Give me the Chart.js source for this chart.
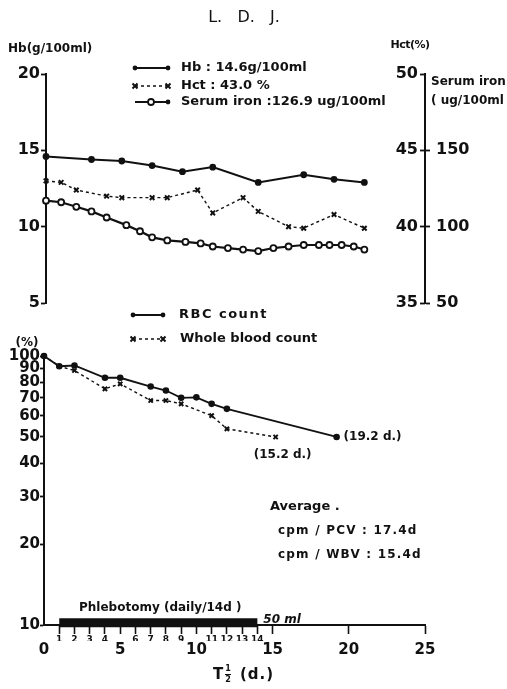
<!DOCTYPE html>
<html>
<head>
<meta charset="utf-8">
<title>L. D. J.</title>
<script src="https://cdn.jsdelivr.net/npm/chart.js@4.4.1/dist/chart.umd.min.js"></script>
<style>
  html, body { margin: 0; padding: 0; background: #fff; }
  #wrap { position: relative; width: 507px; height: 689px; overflow: hidden; background: #fff; }
  .box { position: absolute; left: 0; width: 507px; }
  #topBox { top: 0; height: 320px; }
  #botBox { top: 300px; height: 389px; }
</style>
</head>
<body>
<div id="wrap">
  <div class="box" id="topBox"><canvas id="topChart" width="507" height="320"></canvas></div>
  <div class="box" id="botBox"><canvas id="botChart" width="507" height="389"></canvas></div>
</div>
<script>
// Upper panel: Hb, Hct and serum iron by day
const hbDays = [0, 3, 5, 7, 9, 11, 14, 17, 19, 21];
const hbValues = [14.6, 14.4, 14.3, 14.0, 13.6, 13.9, 12.9, 13.4, 13.1, 12.9];
const hctDays = [0, 1, 2, 4, 5, 7, 8, 10, 11, 13, 14, 16, 17, 19, 21];
const hctValues = [43.0, 42.9, 42.4, 42.0, 41.9, 41.9, 41.9, 42.4, 40.9, 41.9, 41.0, 40.0, 39.9, 40.8, 39.9];
const ironDays = [0, 1, 2, 3, 4, 5.3, 6.2, 7, 8, 9.2, 10.2, 11, 12, 13, 14, 15, 16, 17, 18, 18.7, 19.5, 20.3, 21];
const ironValues = [117, 116, 113, 110, 106, 101, 97, 93, 91, 90, 89, 87, 86, 85, 84, 86, 87, 88, 88, 88, 88, 87, 85];

// Lower panel: survival of labelled cells (% of day 0), log scale
const rbcDays = [0, 1, 2, 4, 5, 7, 8, 9, 10, 11, 12, 19.2];
const rbcValues = [100, 91.6, 92.2, 83.0, 83.0, 77.0, 74.4, 69.9, 70.2, 66.4, 63.6, 50];
const wbcDays = [0, 1, 2, 4, 5, 7, 8, 9, 11, 12, 15.2];
const wbcValues = [100, 91.6, 88.3, 75.5, 78.8, 68.3, 68.3, 66.4, 60.0, 53.6, 50];

// Phlebotomy period (50 ml daily, days 1-14), drawn as a band along the bottom
const phlebotomyDays = [1, 14];
const phlebotomyLevel = 10.2;

// Tick values
const hbTicks = [5, 10, 15, 20];
const hctTicks = [35, 40, 45, 50];
const ironTicks = [50, 100, 150];
const pctTicks = [10, 20, 30, 40, 50, 60, 70, 80, 90, 100];
const dayTicks = [0, 5, 10, 15, 20, 25];
const dayNumbers = [1, 2, 3, 4, 6, 7, 8, 9, 11, 12, 13, 14];

const topLegend = ['Hb : 14.6g/100ml', 'Hct : 43.0 %', 'Serum iron :126.9 ug/100ml'];
const botLegend = ['RBC count', 'Whole blood count'];

const ink = '#111';
const FAM = 'DejaVu Sans';
Chart.defaults.font.family = FAM;
Chart.defaults.color = ink;

const pts = (xs, ys) => xs.map((x, i) => ({ x: x, y: ys[i] }));
const fixTicks = vals => scale => { scale.ticks = vals.map(v => ({ value: v })); };
const fixWidth = w => scale => { scale.width = w; };
const fixHeight = h => scale => { scale.height = h; };
const bold = size => ({ family: FAM, size: size, weight: 'bold' });

function put(ctx, s, x, y, font, align, spacing) {
  ctx.font = font;
  ctx.textAlign = align || 'left';
  ctx.textBaseline = 'middle';
  ctx.letterSpacing = spacing || '0px';
  ctx.fillText(s, x, y);
}

// legend keys: line piece plus markers
function keyLine(ctx, x1, x2, y, dash, w) {
  ctx.save();
  ctx.strokeStyle = ink;
  ctx.lineWidth = w;
  ctx.setLineDash(dash);
  ctx.beginPath(); ctx.moveTo(x1, y); ctx.lineTo(x2, y); ctx.stroke();
  ctx.restore();
}
function mark(ctx, kind, x, y) {
  ctx.save();
  ctx.strokeStyle = ink; ctx.fillStyle = ink;
  if (kind === 'dot') {
    ctx.beginPath(); ctx.arc(x, y, 2.4, 0, Math.PI * 2); ctx.fill();
  } else if (kind === 'cross') {
    ctx.lineWidth = 2;
    ctx.beginPath();
    ctx.moveTo(x - 2.5, y - 2.5); ctx.lineTo(x + 2.5, y + 2.5);
    ctx.moveTo(x + 2.5, y - 2.5); ctx.lineTo(x - 2.5, y + 2.5);
    ctx.stroke();
  } else {
    ctx.lineWidth = 1.8; ctx.fillStyle = '#fff';
    ctx.beginPath(); ctx.arc(x, y, 3, 0, Math.PI * 2); ctx.fill(); ctx.stroke();
  }
  ctx.restore();
}

const topNotes = {
  id: 'topNotes',
  afterDraw(chart) {
    const ctx = chart.ctx;
    const yl = chart.scales.y, yr = chart.scales.yIron;
    ctx.save();
    ctx.fillStyle = ink;
    put(ctx, 'L.   D.   J.', 244, 18, '16px ' + FAM, 'center');
    put(ctx, 'Hb(g/100ml)', 8, yl.top - 25, 'bold 12px ' + FAM, 'left');
    put(ctx, 'Hct(%)', yr.left - 15, yl.top - 29, 'bold 11px ' + FAM, 'center', '-0.5px');
    put(ctx, 'Serum iron', yr.left + 6, 82, 'bold 12px ' + FAM, 'left');
    put(ctx, '( ug/100ml', yr.left + 6, 101, 'bold 12px ' + FAM, 'left');

    const rows = [68, 86, 102];
    keyLine(ctx, 135, 168, rows[0], [], 2);
    mark(ctx, 'dot', 135, rows[0]); mark(ctx, 'dot', 168, rows[0]);
    keyLine(ctx, 135, 168, rows[1], [3, 3], 1.4);
    mark(ctx, 'cross', 135, rows[1]); mark(ctx, 'cross', 168, rows[1]);
    keyLine(ctx, 135, 168, rows[2], [], 2);
    mark(ctx, 'ring', 151, rows[2]); mark(ctx, 'dot', 168, rows[2]);
    ctx.fillStyle = ink;
    topLegend.forEach((s, i) => put(ctx, s, 181, rows[i], 'bold 13px ' + FAM, 'left'));
    ctx.restore();
  }
};

const botNotes = {
  id: 'botNotes',
  afterDraw(chart) {
    const ctx = chart.ctx;
    const x = chart.scales.x, y = chart.scales.y;
    ctx.save();
    ctx.fillStyle = ink;
    const rows = [15, 39];
    keyLine(ctx, 133, 163, rows[0], [], 2);
    mark(ctx, 'dot', 133, rows[0]); mark(ctx, 'dot', 163, rows[0]);
    keyLine(ctx, 133, 163, rows[1], [3, 3], 1.4);
    mark(ctx, 'cross', 133, rows[1]); mark(ctx, 'cross', 163, rows[1]);
    ctx.fillStyle = ink;
    put(ctx, botLegend[0], 179, rows[0], 'bold 13px ' + FAM, 'left', '1.5px');
    put(ctx, botLegend[1], 180, rows[1], 'bold 13px ' + FAM, 'left');

    put(ctx, '(%)', 27, y.top - 13, 'bold 12px ' + FAM, 'center');

    const half = y.getPixelForValue(50);
    put(ctx, '(19.2 d.)', x.getPixelForValue(19.2) + 7, half, 'bold 12px ' + FAM, 'left');
    put(ctx, '(15.2 d.)', x.getPixelForValue(15.2) + 7, half + 18, 'bold 12px ' + FAM, 'center');

    put(ctx, 'Average .', 270, 207, 'bold 13px ' + FAM, 'left');
    put(ctx, 'cpm / PCV : 17.4d', 278, 231, 'bold 12px ' + FAM, 'left', '1.2px');
    put(ctx, 'cpm / WBV : 15.4d', 278, 255, 'bold 12px ' + FAM, 'left', '1.2px');

    const band = y.getPixelForValue(phlebotomyLevel);
    put(ctx, 'Phlebotomy (daily/14d )', 79, band - 15, 'bold 12px ' + FAM, 'left');
    put(ctx, '50 ml', x.getPixelForValue(phlebotomyDays[1]) + 6, band - 3, 'italic bold 12px ' + FAM, 'left');

    // axis title: T with a stacked 1/2
    put(ctx, 'T', 213, 375, 'bold 15px ' + FAM, 'left');
    put(ctx, '1', 228, 369, 'bold 8px ' + FAM, 'center');
    ctx.fillRect(225, 374, 6, 1);
    put(ctx, '2', 228, 380, 'bold 8px ' + FAM, 'center');
    put(ctx, '(d.)', 240, 375, 'bold 15px ' + FAM, 'left', '1px');
    ctx.restore();
  }
};

const axisGrid = { drawOnChartArea: false, tickLength: 5, tickWidth: 1.8, tickColor: ink };
const axisBorder = { color: ink, width: 2 };

new Chart(document.getElementById('topChart'), {
  type: 'line',
  data: {
    datasets: [
      { label: 'Hb', data: pts(hbDays, hbValues), yAxisID: 'y', borderColor: ink, borderWidth: 2,
        pointRadius: 2.4, pointBackgroundColor: ink, pointBorderColor: ink, clip: false },
      { label: 'Hct', data: pts(hctDays, hctValues), yAxisID: 'yHct', borderColor: ink, borderWidth: 1.4,
        borderDash: [3, 3], pointStyle: 'crossRot', pointRadius: 3.2, pointBorderWidth: 2,
        pointBorderColor: ink, clip: false },
      { label: 'Serum iron', data: pts(ironDays, ironValues), yAxisID: 'yIron', borderColor: ink,
        borderWidth: 2.2, pointRadius: 3, pointBackgroundColor: '#fff', pointBorderColor: ink,
        pointBorderWidth: 1.8, clip: false }
    ]
  },
  options: {
    responsive: false,
    animation: false,
    layout: { padding: { top: 74, bottom: 17, left: 0, right: 0 } },
    plugins: { legend: { display: false }, tooltip: { enabled: false } },
    scales: {
      x: { type: 'linear', min: 0, max: 25, display: false },
      y: {
        position: 'left', min: 5, max: 20, afterBuildTicks: fixTicks(hbTicks), afterFit: fixWidth(46),
        grid: axisGrid, border: axisBorder,
        ticks: { font: bold(16), color: ink, padding: 1 }
      },
      yHct: {
        position: 'right', weight: 0, min: 35, max: 50, afterBuildTicks: fixTicks(hctTicks), afterFit: fixWidth(0),
        grid: { drawOnChartArea: false, tickLength: -5, tickWidth: 1.8, tickColor: ink },
        border: { display: false },
        ticks: { mirror: true, font: bold(16), color: ink, padding: -7 }
      },
      yIron: {
        position: 'right', weight: 1, min: 50, max: 200, afterBuildTicks: fixTicks(ironTicks), afterFit: fixWidth(82),
        grid: axisGrid, border: axisBorder,
        ticks: { font: bold(16), color: ink, padding: 6 }
      }
    }
  },
  plugins: [topNotes]
});

new Chart(document.getElementById('botChart'), {
  type: 'line',
  data: {
    datasets: [
      { label: 'RBC count', data: pts(rbcDays, rbcValues), borderColor: ink, borderWidth: 1.8,
        pointRadius: 2.4, pointBackgroundColor: ink, pointBorderColor: ink, clip: false },
      { label: 'Whole blood count', data: pts(wbcDays, wbcValues), borderColor: ink, borderWidth: 1.4,
        borderDash: [3, 3], pointStyle: 'crossRot', pointRadius: 3, pointBorderWidth: 2,
        pointBorderColor: ink, clip: false },
      { label: 'Phlebotomy', data: phlebotomyDays.map(d => ({ x: d, y: phlebotomyLevel })),
        borderColor: ink, borderWidth: 9, borderCapStyle: 'butt', pointRadius: 0, clip: false }
    ]
  },
  options: {
    responsive: false,
    animation: false,
    layout: { padding: { top: 56, bottom: 28, left: 0, right: 82 } },
    plugins: { legend: { display: false }, tooltip: { enabled: false } },
    scales: {
      x: {
        type: 'linear', position: 'bottom', weight: 0, min: 0, max: 25,
        afterBuildTicks: fixTicks(Array.from({ length: 26 }, (_, i) => i)), afterFit: fixHeight(16),
        grid: {
          drawOnChartArea: false, tickLength: 9, tickWidth: 1.6,
          tickColor: c => (c.tick && c.tick.value > 0 && (c.tick.value <= 15 || c.tick.value % 5 === 0)) ? ink : 'rgba(0,0,0,0)'
        },
        border: axisBorder,
        ticks: {
          autoSkip: false, maxRotation: 0, padding: 0, font: bold(9), color: ink,
          callback: v => dayNumbers.includes(v) ? String(v) : ''
        }
      },
      x2: {
        type: 'linear', position: 'bottom', weight: 1, min: 0, max: 25,
        afterBuildTicks: fixTicks(dayTicks), afterFit: fixHeight(20),
        grid: { display: false, drawTicks: false }, border: { display: false },
        ticks: { autoSkip: false, maxRotation: 0, padding: 0, font: bold(15), color: ink }
      },
      y: {
        type: 'logarithmic', position: 'left', min: 10, max: 100,
        afterBuildTicks: fixTicks(pctTicks), afterFit: fixWidth(44),
        grid: { drawOnChartArea: false, tickLength: 4, tickWidth: 1.8, tickColor: ink },
        border: axisBorder,
        ticks: { autoSkip: false, font: bold(15), color: ink, padding: 0, callback: v => String(v) }
      }
    }
  },
  plugins: [botNotes]
});
</script>
</body>
</html>
